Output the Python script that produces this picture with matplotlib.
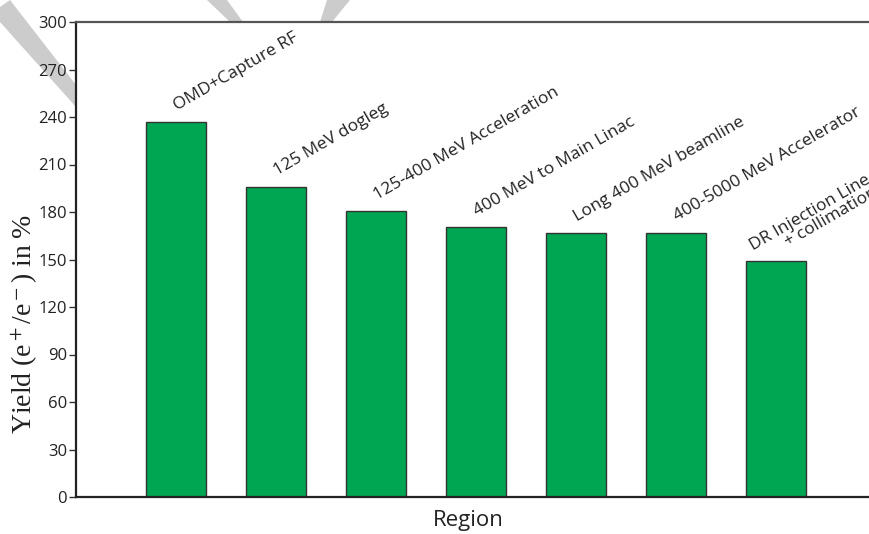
import matplotlib
matplotlib.use("Agg")
import matplotlib.pyplot as plt
from matplotlib.patches import Polygon

regions = ["OMD+Capture RF", "125 MeV dogleg", "125-400 MeV Acceleration",
           "400 MeV to Main Linac", "Long 400 MeV beamline",
           "400-5000 MeV Accelerator", "DR Injection Line\n+ collimation"]
yield_pct = [237, 196, 180.5, 170.5, 167, 167, 149]
yticks = list(range(0, 301, 30))

plt.rcParams["font.family"] = ["Open Sans", "DejaVu Sans"]
plt.rcParams["mathtext.fontset"] = "stix"

W, H = 869, 534
fig = plt.figure(figsize=(W / 100, H / 100), dpi=100)

# faint grey watermark strokes behind the axes (pixel outlines -> figure fraction)
strokes = [[(0, 7), (10, 0), (76, 85), (76, 107), (0, 22)],
           [(207, 0), (227, 0), (243, 22), (230, 22)],
           [(327, 0), (350, 0), (332, 22), (320, 22)]]
for s in strokes:
    pts = [(px / W, 1 - py / H) for px, py in s]
    fig.patches.append(Polygon(pts, closed=True, transform=fig.transFigure,
                               facecolor="#cccccc", edgecolor="none", zorder=-5))

ax = fig.add_axes([76 / W, 37 / H, 800 / W, 475 / H])
x = list(range(1, len(regions) + 1))
ax.bar(x, yield_pct, width=0.6, color="#00a651", edgecolor="#333333", linewidth=1)

ax.set_xlim(0, 8)
ax.set_ylim(0, 300)
ax.set_yticks(yticks)
ax.set_xticks([])
ax.tick_params(axis="y", direction="out", length=5, width=1, color="#333333",
               labelsize=12, pad=1.5, labelcolor="#222222")

for side in ["left", "bottom"]:
    ax.spines[side].set_linewidth(1.6)
    ax.spines[side].set_color("#222222")
ax.spines["top"].set_linewidth(1.6)
ax.spines["top"].set_color("#555555")
ax.spines["right"].set_visible(False)

for xi, h, lab in zip(x, yield_pct, regions):
    if "\n" in lab:
        ax.annotate(lab, xy=(xi, h), xytext=(-14, -5), textcoords="offset pixels",
                    rotation=30, rotation_mode="anchor", ha="left", va="bottom",
                    multialignment="right", fontsize=12.5, color="#222222",
                    linespacing=0.85)
    else:
        ax.annotate(lab, xy=(xi, h), xytext=(3, 8), textcoords="offset pixels",
                    rotation=30, rotation_mode="anchor", ha="left", va="bottom",
                    fontsize=12.5, color="#222222")

ax.set_xlabel("Region", fontsize=16, color="#222222")
ax.xaxis.set_label_coords(0.49, -0.028)
ax.set_ylabel("Yield (e$^+$/e$^-$) in %", fontsize=20, family="Liberation Serif",
              color="#222222")
ax.yaxis.set_label_coords(-0.045, 0.365)

fig.savefig("out.png", dpi=100)
